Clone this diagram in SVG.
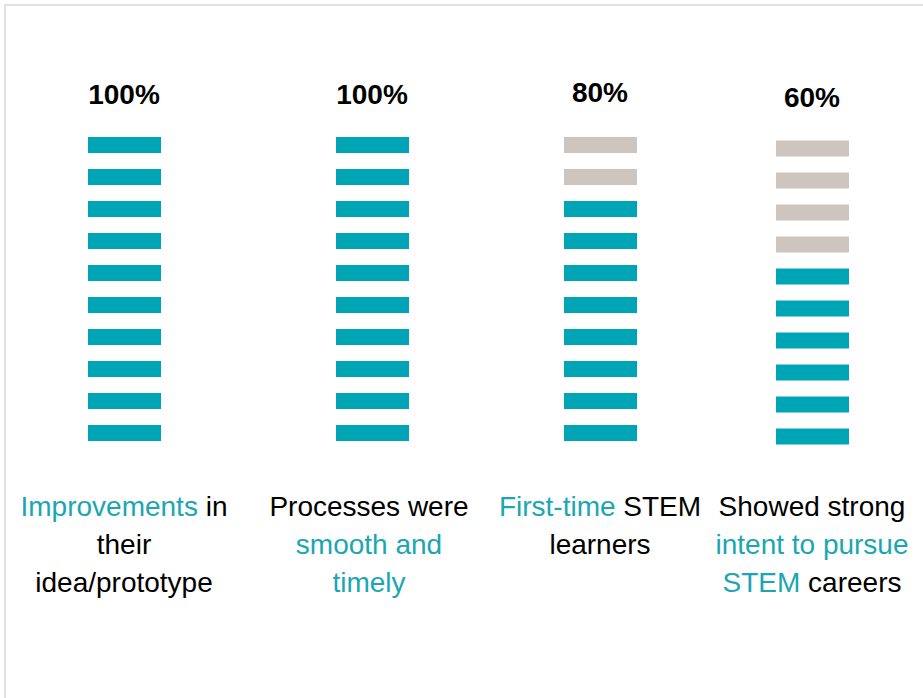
<svg xmlns="http://www.w3.org/2000/svg" width="923" height="698" viewBox="0 0 923 698">
<defs>
<style>
.t{fill:#00A5B5}
.g{fill:#CDC5BE}
.pct{font-family:"Liberation Sans",Arial,sans-serif;font-weight:bold;font-size:28px;fill:#000;text-anchor:middle}
.lbl{font-family:"Liberation Sans",Arial,sans-serif;font-size:28px;fill:#000;text-anchor:middle}
.hl{fill:#1AA6B3}
</style>
<rect id="bar" width="73" height="16"/>
</defs>
<rect x="0" y="0" width="923" height="698" fill="#fff"/>
<rect x="5" y="5" width="940" height="720" fill="none" stroke="#D5D8DB" stroke-width="1.5"/>
<g id="col1">
<text class="pct" x="124" y="104">100%</text>
<use href="#bar" class="t" x="88" y="137"/><use href="#bar" class="t" x="88" y="169"/><use href="#bar" class="t" x="88" y="201"/><use href="#bar" class="t" x="88" y="233"/><use href="#bar" class="t" x="88" y="265"/><use href="#bar" class="t" x="88" y="297"/><use href="#bar" class="t" x="88" y="329"/><use href="#bar" class="t" x="88" y="361"/><use href="#bar" class="t" x="88" y="393"/><use href="#bar" class="t" x="88" y="425"/>
<text class="lbl" x="124" y="516"><tspan class="hl">Improvements</tspan> in</text>
<text class="lbl" x="124" y="554">their</text>
<text class="lbl" x="124" y="592">idea/prototype</text>
</g>
<g id="col2">
<text class="pct" x="372" y="104">100%</text>
<use href="#bar" class="t" x="336" y="137"/><use href="#bar" class="t" x="336" y="169"/><use href="#bar" class="t" x="336" y="201"/><use href="#bar" class="t" x="336" y="233"/><use href="#bar" class="t" x="336" y="265"/><use href="#bar" class="t" x="336" y="297"/><use href="#bar" class="t" x="336" y="329"/><use href="#bar" class="t" x="336" y="361"/><use href="#bar" class="t" x="336" y="393"/><use href="#bar" class="t" x="336" y="425"/>
<text class="lbl" x="369" y="516">Processes were</text>
<text class="lbl hl" x="369" y="554">smooth and</text>
<text class="lbl hl" x="369" y="592">timely</text>
</g>
<g id="col3">
<text class="pct" x="600" y="102">80%</text>
<use href="#bar" class="g" x="564" y="137"/><use href="#bar" class="g" x="564" y="169"/><use href="#bar" class="t" x="564" y="201"/><use href="#bar" class="t" x="564" y="233"/><use href="#bar" class="t" x="564" y="265"/><use href="#bar" class="t" x="564" y="297"/><use href="#bar" class="t" x="564" y="329"/><use href="#bar" class="t" x="564" y="361"/><use href="#bar" class="t" x="564" y="393"/><use href="#bar" class="t" x="564" y="425"/>
<text class="lbl" x="600" y="516"><tspan class="hl">First-time</tspan> STEM</text>
<text class="lbl" x="600" y="554">learners</text>
</g>
<g id="col4">
<text class="pct" x="812" y="107">60%</text>
<use href="#bar" class="g" x="776" y="140.5"/><use href="#bar" class="g" x="776" y="172.5"/><use href="#bar" class="g" x="776" y="204.5"/><use href="#bar" class="g" x="776" y="236.5"/><use href="#bar" class="t" x="776" y="268.5"/><use href="#bar" class="t" x="776" y="300.5"/><use href="#bar" class="t" x="776" y="332.5"/><use href="#bar" class="t" x="776" y="364.5"/><use href="#bar" class="t" x="776" y="396.5"/><use href="#bar" class="t" x="776" y="428.5"/>
<text class="lbl" x="812" y="516">Showed strong</text>
<text class="lbl hl" x="812" y="554">intent to pursue</text>
<text class="lbl" x="812" y="592"><tspan class="hl">STEM</tspan> careers</text>
</g>
<g id="connectors"/>
</svg>
